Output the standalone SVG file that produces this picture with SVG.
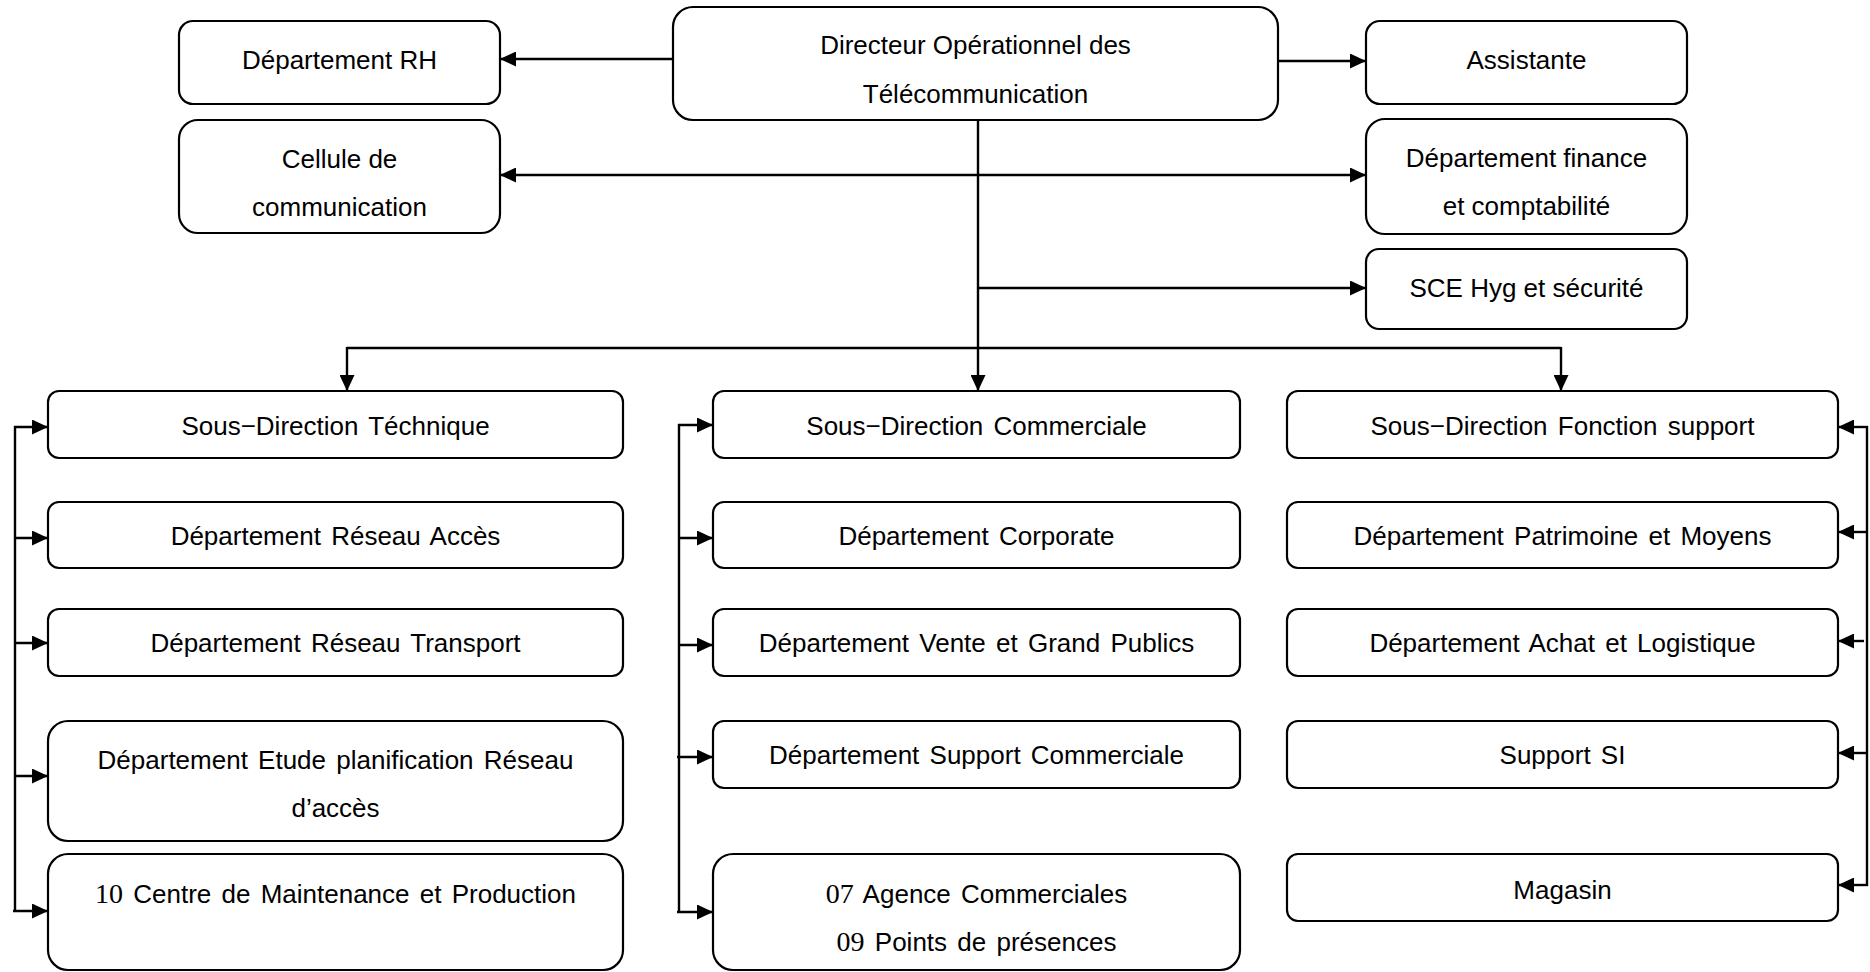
<svg xmlns="http://www.w3.org/2000/svg" width="1870" height="972" viewBox="0 0 1870 972">
<style>
.box{fill:#fff;stroke:#000;stroke-width:2.2}
.t{font-family:"Liberation Sans",Arial,sans-serif;font-size:26px;fill:#000;text-anchor:middle}
.w{word-spacing:3px}
.n{font-family:"Liberation Serif","Times New Roman",serif;font-size:28px}
.c{fill:none;stroke:#000;stroke-width:2.4}
.a{marker-end:url(#ah)}
</style>
<defs>
<marker id="ah" markerUnits="userSpaceOnUse" markerWidth="16" markerHeight="15" refX="16" refY="7.5" orient="auto-start-reverse">
<path d="M0,0 L16,7.5 L0,15 z" fill="#000"/>
</marker>
</defs>
<rect width="1870" height="972" fill="#fff"/>
<g id="connectors">
<line class="c a" x1="673" y1="59" x2="500" y2="59"/>
<line class="c a" x1="1278" y1="61" x2="1366" y2="61"/>
<line class="c a" x1="978" y1="120" x2="978" y2="391"/>
<line class="c a" x1="500" y1="175" x2="1366" y2="175" marker-start="url(#ah)"/>
<line class="c a" x1="978" y1="288" x2="1366" y2="288"/>
<line class="c" x1="347" y1="348" x2="1561" y2="348"/>
<line class="c a" x1="347" y1="347" x2="347" y2="391"/>
<line class="c a" x1="1561" y1="347" x2="1561" y2="391"/>
<line class="c" x1="15" y1="426" x2="15" y2="912"/>
<line class="c a" x1="14" y1="427" x2="48" y2="427"/>
<line class="c a" x1="14" y1="538" x2="48" y2="538"/>
<line class="c a" x1="14" y1="643" x2="48" y2="643"/>
<line class="c a" x1="14" y1="776" x2="48" y2="776"/>
<line class="c a" x1="13" y1="911" x2="48" y2="911"/>
<line class="c" x1="679" y1="424" x2="679" y2="913"/>
<line class="c a" x1="678" y1="425" x2="713" y2="425"/>
<line class="c a" x1="678" y1="538" x2="713" y2="538"/>
<line class="c a" x1="678" y1="645" x2="713" y2="645"/>
<line class="c a" x1="677" y1="757" x2="713" y2="757"/>
<line class="c a" x1="677" y1="912" x2="713" y2="912"/>
<line class="c" x1="1867" y1="426" x2="1867" y2="886"/>
<line class="c a" x1="1868" y1="427" x2="1838" y2="427"/>
<line class="c a" x1="1868" y1="532" x2="1838" y2="532"/>
<line class="c a" x1="1864" y1="641" x2="1838" y2="641"/>
<line class="c a" x1="1868" y1="753" x2="1838" y2="753"/>
<line class="c a" x1="1868" y1="885" x2="1838" y2="885"/>
</g>
<g id="rh"><rect class="box" x="179" y="21" width="321" height="83" rx="14"/><text class="t" x="339.5" y="69">Département RH</text></g>
<g id="directeur"><rect class="box" x="673" y="7" width="605" height="113" rx="20"/><text class="t" x="975.5" y="54">Directeur Opérationnel des</text><text class="t" x="975.5" y="103">Télécommunication</text></g>
<g id="assistante"><rect class="box" x="1366" y="21" width="321" height="83" rx="14"/><text class="t" x="1526.5" y="69">Assistante</text></g>
<g id="cellule"><rect class="box" x="179" y="120" width="321" height="113" rx="19"/><text class="t" x="339.5" y="168">Cellule de</text><text class="t" x="339.5" y="216">communication</text></g>
<g id="finance"><rect class="box" x="1366" y="119" width="321" height="115" rx="19"/><text class="t" x="1526.5" y="167">Département finance</text><text class="t" x="1526.5" y="215">et comptabilité</text></g>
<g id="sce"><rect class="box" x="1366" y="249" width="321" height="80" rx="13"/><text class="t" x="1526.5" y="297">SCE Hyg et sécurité</text></g>

<g id="sd-technique"><rect class="box" x="48" y="391" width="575" height="67" rx="11"/><text class="t w" x="335.5" y="435">Sous−Direction Téchnique</text></g>
<g id="reseau-acces"><rect class="box" x="48" y="502" width="575" height="66" rx="11"/><text class="t w" x="335.5" y="545">Département Réseau Accès</text></g>
<g id="reseau-transport"><rect class="box" x="48" y="609" width="575" height="67" rx="11"/><text class="t w" x="335.5" y="652">Département Réseau Transport</text></g>
<g id="etude"><rect class="box" x="48" y="721" width="575" height="120" rx="20"/><text class="t w" x="335.5" y="769">Département Etude planification Réseau</text><text class="t w" x="335.5" y="817">d’accès</text></g>
<g id="centre"><rect class="box" x="48" y="854" width="575" height="116" rx="20"/><text class="t w" x="335.5" y="903"><tspan class="n">10</tspan> Centre de Maintenance et Production</text></g>

<g id="sd-commerciale"><rect class="box" x="713" y="391" width="527" height="67" rx="11"/><text class="t w" x="976.5" y="435">Sous−Direction Commerciale</text></g>
<g id="corporate"><rect class="box" x="713" y="502" width="527" height="66" rx="11"/><text class="t w" x="976.5" y="545">Département Corporate</text></g>
<g id="vente"><rect class="box" x="713" y="609" width="527" height="67" rx="11"/><text class="t w" x="976.5" y="652">Département Vente et Grand Publics</text></g>
<g id="support-commerciale"><rect class="box" x="713" y="721" width="527" height="67" rx="11"/><text class="t w" x="976.5" y="764">Département Support Commerciale</text></g>
<g id="agences"><rect class="box" x="713" y="854" width="527" height="116" rx="20"/><text class="t w" x="976.5" y="903"><tspan class="n">07</tspan> Agence Commerciales</text><text class="t w" x="976.5" y="951"><tspan class="n">09</tspan> Points de présences</text></g>

<g id="sd-support"><rect class="box" x="1287" y="391" width="551" height="67" rx="11"/><text class="t w" x="1562.5" y="435">Sous−Direction Fonction support</text></g>
<g id="patrimoine"><rect class="box" x="1287" y="502" width="551" height="66" rx="11"/><text class="t w" x="1562.5" y="545">Département Patrimoine et Moyens</text></g>
<g id="achat"><rect class="box" x="1287" y="609" width="551" height="67" rx="11"/><text class="t w" x="1562.5" y="652">Département Achat et Logistique</text></g>
<g id="support-si"><rect class="box" x="1287" y="721" width="551" height="67" rx="11"/><text class="t w" x="1562.5" y="764">Support SI</text></g>
<g id="magasin"><rect class="box" x="1287" y="854" width="551" height="67" rx="11"/><text class="t w" x="1562.5" y="899">Magasin</text></g>
</svg>
